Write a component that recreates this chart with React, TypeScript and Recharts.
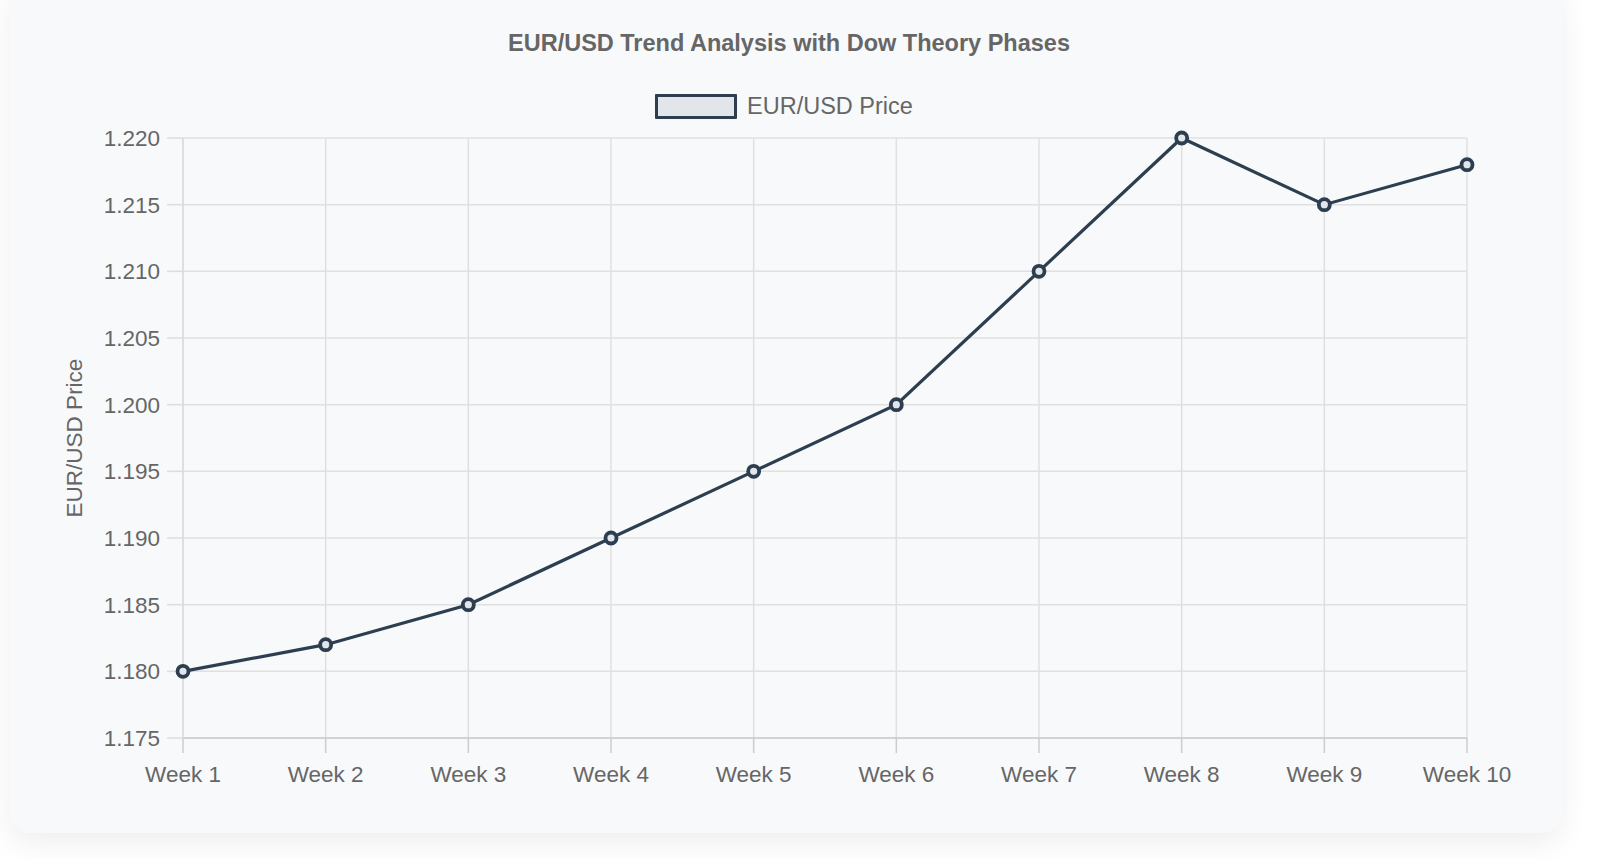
import React from 'react';
import { LineChart, Line, XAxis, YAxis, CartesianGrid, Legend } from 'recharts';

const weeks = ['Week 1', 'Week 2', 'Week 3', 'Week 4', 'Week 5', 'Week 6', 'Week 7', 'Week 8', 'Week 9', 'Week 10'];
const prices = [1.18, 1.182, 1.185, 1.19, 1.195, 1.2, 1.21, 1.22, 1.215, 1.218];
const priceTicks = [1.175, 1.18, 1.185, 1.19, 1.195, 1.2, 1.205, 1.21, 1.215, 1.22];

const data = weeks.map((week, i) => ({ week, price: prices[i] }));

const FONT = '"Liberation Sans", Arial, Helvetica, sans-serif';
const LINE = '#2c3e50';
const TEXT = '#666666';

const LegendContent = () => (
  <div style={{ height: 48, display: 'flex', justifyContent: 'center', fontFamily: FONT }}>
    <div style={{ display: 'flex', alignItems: 'flex-start', marginTop: 4 }}>
      <div
        style={{
          width: 82,
          height: 25,
          boxSizing: 'border-box',
          border: `3.5px solid ${LINE}`,
          background: '#e2e6ea',
          borderRadius: 1,
        }}
      />
      <span style={{ marginLeft: 10, fontSize: 23.5, color: TEXT, lineHeight: '25px' }}>EUR/USD Price</span>
    </div>
  </div>
);

const App: React.FC = () => {
  return (
    <div>
      <div
        style={{
          position: 'absolute',
          left: 10,
          top: -20,
          width: 1552,
          height: 853,
          background: '#f8f9fa',
          borderRadius: 20,
          boxShadow: '0 10px 30px rgba(0,0,0,0.07)',
        }}
      />
      <div
        style={{
          position: 'absolute',
          left: 0,
          top: 32,
          width: 1578,
          textAlign: 'center',
          fontFamily: FONT,
          fontWeight: 'bold',
          fontSize: 23.5,
          lineHeight: '23px',
          color: TEXT,
        }}
      >
        EUR/USD Trend Analysis with Dow Theory Phases
      </div>
      <div style={{ position: 'absolute', left: 0, top: 0 }}>
        <LineChart
          width={1600}
          height={859}
          data={data}
          margin={{ top: 90, right: 133, left: 0, bottom: 61 }}
          style={{ fontFamily: FONT }}
        >
          <CartesianGrid stroke="#e0e0e0" strokeWidth={1.5} />
          <Legend
            verticalAlign="top"
            content={<LegendContent />}
            wrapperStyle={{ left: 0, width: 1568 }}
          />
          <XAxis
            dataKey="week"
            stroke="#cccccc"
            strokeWidth={1.5}
            tickSize={15}
            tickMargin={13}
            tick={{ fill: TEXT, fontSize: 22.5 }}
            height={60}
            interval={0}
          />
          <YAxis
            domain={[1.175, 1.22]}
            ticks={priceTicks}
            tickFormatter={(v: number) => v.toFixed(3)}
            stroke="#dddddd"
            strokeWidth={1.5}
            tickSize={16}
            tickMargin={7}
            tick={{ fill: TEXT, fontSize: 22.5 }}
            width={183}
            label={{
              value: 'EUR/USD Price',
              angle: -90,
              position: 'insideLeft',
              offset: 74,
              style: { textAnchor: 'middle', fill: TEXT, fontSize: 22.5 },
            }}
          />
          <Line
            type="linear"
            dataKey="price"
            stroke={LINE}
            strokeWidth={3.2}
            dot={{ r: 5.5, stroke: LINE, strokeWidth: 3.8, fill: '#e2e6ea' }}
            isAnimationActive={false}
          />
        </LineChart>
      </div>
    </div>
  );
};

export default App;
